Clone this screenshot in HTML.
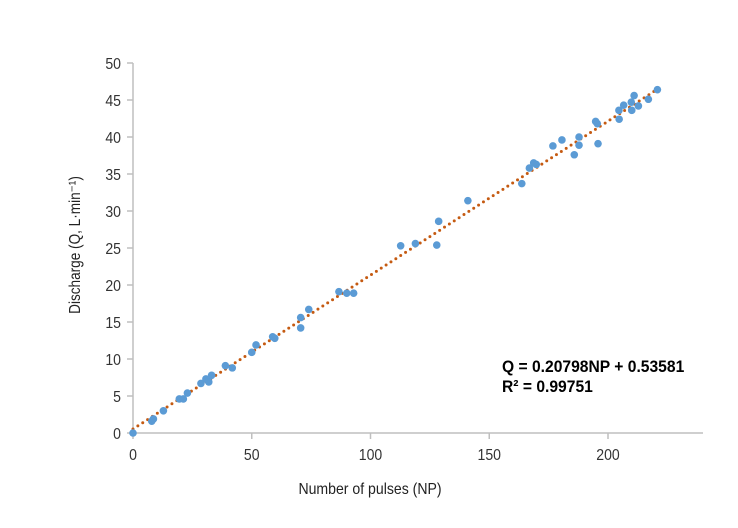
<!DOCTYPE html>
<html><head><meta charset="utf-8"><style>
body{margin:0;background:#fff}
svg{font-family:"Liberation Sans Narrow","Liberation Sans",sans-serif}
</style></head><body>
<svg id="chart" width="738" height="523">
<g id="axes"></g><g id="trend"></g><g id="pts"></g>
<text transform="translate(502,372) scale(0.92,1)" font-size="17" font-weight="bold" fill="#000">Q = 0.20798NP + 0.53581</text>
<text transform="translate(502,392) scale(0.92,1)" font-size="17" font-weight="bold" fill="#000">R² = 0.99751</text>
<text transform="translate(370,494) scale(0.88,1)" font-size="16" text-anchor="middle" fill="#222">Number of pulses (NP)</text>
<text transform="translate(80,245) rotate(-90) scale(0.85,1)" font-size="16" text-anchor="middle" fill="#222">Discharge (Q, L·min⁻¹)</text>
</svg>
<script>
const xVals=[0,7.9,8.6,12.8,19.5,21.2,22.9,28.6,30.7,31.9,33.1,38.9,41.8,50,51.8,58.8,59.7,70.6,70.6,74,86.7,90,92.9,112.7,118.9,127.9,128.7,141,163.7,166.9,168.7,169.8,176.8,180.6,185.8,187.8,187.8,194.8,195.5,195.8,204.6,204.7,206.6,209.8,210,211,212.8,217,220.8];
const yVals=[0,1.6,1.9,3.0,4.6,4.6,5.4,6.7,7.3,6.9,7.8,9.1,8.8,10.9,11.9,13.0,12.8,15.6,14.2,16.7,19.1,18.9,18.9,25.3,25.6,25.4,28.6,31.4,33.7,35.8,36.5,36.3,38.8,39.6,37.6,38.9,40.0,42.1,41.8,39.1,43.6,42.4,44.3,44.7,43.6,45.6,44.2,45.1,46.4];
const xTicks=[0,50,100,150,200];
const yTicks=[0,5,10,15,20,25,30,35,40,45,50];
const slope=0.20798, intercept=0.53581;
const NS="http://www.w3.org/2000/svg";
const X=v=>133+v*2.375, Y=v=>433-v*7.4;
function mk(t,a,p){const e=document.createElementNS(NS,t);for(const k in a)e.setAttribute(k,a[k]);p.appendChild(e);return e;}
const ax=document.getElementById('axes');
let l=mk('line',{x1:133,y1:433,x2:703,y2:433,stroke:'#bfbfbf','stroke-width':1.5},ax);


l=mk('line',{x1:133,y1:63,x2:133,y2:433,stroke:'#bfbfbf','stroke-width':1.5},ax);


xTicks.forEach(v=>{mk('line',{x1:X(v),y1:433,x2:X(v),y2:439,stroke:'#bfbfbf','stroke-width':1.5},ax);
const t=mk('text',{transform:`translate(${X(v)},460) scale(0.88,1)`,'font-size':16,'text-anchor':'middle',fill:'#333'},ax);t.textContent=v;

});
yTicks.forEach(v=>{mk('line',{x1:127,y1:Y(v),x2:133,y2:Y(v),stroke:'#bfbfbf','stroke-width':1.5},ax);
const t=mk('text',{transform:`translate(121,${Y(v)+6}) scale(0.88,1)`,'font-size':16,'text-anchor':'end',fill:'#333'},ax);t.textContent=v;

});
const xmax=Math.max(...xVals);
const tl=mk('line',{x1:X(0),y1:Y(intercept),x2:X(xmax),y2:Y(slope*xmax+intercept),stroke:'#c55a11','stroke-width':3,'stroke-dasharray':'0 5.8','stroke-linecap':'round'},document.getElementById('trend'));


const pg=document.getElementById('pts');
xVals.forEach((x,i)=>{const c=mk('circle',{cx:X(x),cy:Y(yVals[i]),r:3.8,fill:'#5b9bd5'},pg);

});
</script>
</body></html>
